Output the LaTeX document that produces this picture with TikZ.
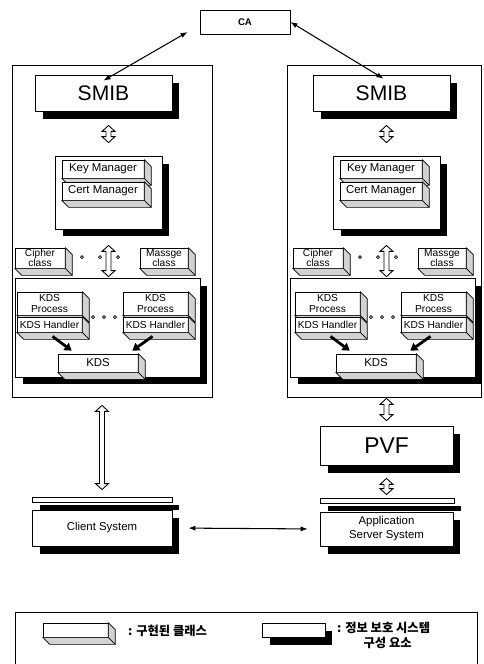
\documentclass[tikz,border=0pt]{standalone}
\usepackage{fontspec}
\setmainfont{Liberation Sans}
\newfontfamily\krfont{Noto Sans CJK KR}
\usetikzlibrary{arrows.meta, calc, shadows}

\tikzset{
  panel/.style={draw, line width=0.5pt, inner sep=0pt},
  sysbox/.style={draw, fill=white, line width=0.5pt, inner sep=0pt, align=center,
    drop shadow={shadow xshift=0.15cm, shadow yshift=-0.15cm, fill=black, opacity=1}},
  cls/.style={draw, fill=white, line width=0.4pt, inner sep=0pt, align=center,
    font=\fontsize{6.5}{6.5}\selectfont},
  face/.style={fill=gray!35, draw=black, line width=0.4pt, line join=round},
  % open two-headed arrow, always drawn from top to bottom
  hollow/.style={draw, fill=white, line width=0.5pt, line join=miter, to path={
    let \p1=(\tikztostart), \p2=(\tikztotarget) in
    (\x1,\y1) -- (\x1+3.7pt,\y1-3.4pt) -- (\x1+1.4pt,\y1-3.4pt)
    -- (\x2+1.4pt,\y2+3.4pt) -- (\x2+3.7pt,\y2+3.4pt) -- (\x2,\y2)
    -- (\x2-3.7pt,\y2+3.4pt) -- (\x2-1.4pt,\y2+3.4pt)
    -- (\x1-1.4pt,\y1-3.4pt) -- (\x1-3.7pt,\y1-3.4pt) -- cycle}},
  link/.style={line width=0.6pt, {Latex[length=4pt,width=3pt]}-{Latex[length=4pt,width=3pt]}},
  feed/.style={line width=1.6pt, -{Triangle[length=4pt,width=5pt]}},
  pip/.style={draw, line width=0.4pt},
  kr/.style={font=\krfont\bfseries\fontsize{7}{8.5}\selectfont},
}

% extruded side and bottom of a class box
\newcommand{\slab}[1]{%
  \filldraw[face] (#1.north east) -- ++(7,7) -- ($(#1.south east)+(7,7)$)
    -- ($(#1.south west)+(7,7)$) -- (#1.south west) -- (#1.south east) -- cycle;
  \draw[line width=0.4pt] (#1.south east) -- ++(7,7);}

\begin{document}
\begin{tikzpicture}[x=0.02cm, y=-0.02cm]
\useasboundingbox (0,0) rectangle (484,664);

\node[draw, line width=0.5pt, minimum width=1.8cm, minimum height=0.48cm,
  font=\bfseries\fontsize{5.5}{6}\selectfont] (ca) at (245,22) {CA};

% client side and server side
\node[panel, minimum width=4cm, minimum height=6.64cm] (panell) at (112,231) {};
\node[panel, minimum width=3.88cm, minimum height=6.64cm] (panelr) at (384,231) {};

\foreach \s/\dx/\dk in {l/0/0, r/278/275} {
  \node[sysbox, minimum width=2.74cm, minimum height=0.72cm,
    font=\fontsize{12}{14}\selectfont] (smib\s) at ({103.5+\dx},93) {SMIB};
  % key and cert managers
  \node[sysbox, minimum width=2.14cm, minimum height=1.46cm] (mgr\s) at ({108.5+\dx},192.5) {};
  \node[cls, minimum width=1.64cm, minimum height=0.36cm] (keym\s) at ({103+\dx},169) {Key Manager};
  \slab{keym\s}
  \node[cls, minimum width=1.64cm, minimum height=0.36cm] (certm\s) at ({103+\dx},191) {Cert Manager};
  \slab{certm\s}
  \draw[hollow] ($(mgr\s.north |- smib\s.south)+(0,14)$) to ($(mgr\s.north)+(0,-13)$);
  % crypto classes
  \node[cls, minimum width=1cm, minimum height=0.4cm, font=\fontsize{5.8}{6}\selectfont]
    (ciph\s) at ({40+\dx},258) {Cipher\\class};
  \slab{ciph\s}
  \node[cls, minimum width=0.96cm, minimum height=0.4cm, font=\fontsize{5.8}{6}\selectfont]
    (msg\s) at ({164+\dx},258) {Massge\\class};
  \slab{msg\s}
  \foreach \d in {82,100,118}
    \draw[pip] ({\d+\dx},257) circle[radius=0.03cm];
  % KDS block
  \node[sysbox, minimum width=3.7cm, minimum height=1.98cm] (kdsset\s) at ({107.5+\dk},327.5) {};
  \draw[hollow] ($(mgr\s.south)+(0,16)$) to ($(mgr\s.south |- kdsset\s.north)+(0,-1)$);
  \foreach \pr/\px in {a/49.5, b/155.5} {
    \node[cls, minimum width=1.3cm, minimum height=0.46cm, font=\fontsize{5.8}{6.2}\selectfont]
      (proc\pr\s) at ({\px+\dx},303.5) {KDS\\Process};
    \slab{proc\pr\s}
    \node[cls, minimum width=1.3cm, minimum height=0.3cm, font=\fontsize{5.8}{6}\selectfont]
      (hdl\pr\s) at ({\px+\dx},324.5) {KDS Handler};
    \slab{hdl\pr\s}
  }
  \foreach \d in {93,104,115}
    \draw[pip] ({\d+\dx},317) circle[radius=0.03cm];
  \node[cls, minimum width=1.6cm, minimum height=0.36cm] (kds\s) at ({98+\dx},363) {KDS};
  \slab{kds\s}
  \draw[feed] ($(hdla\s.south)+(3,4)$) -- ($(kds\s.north west)+(14,-3)$);
  \draw[feed] ($(hdlb\s.south)+(-3,4)$) -- ($(kds\s.north east)+(-6,-3)$);
}

\draw[link] ($(ca.west)+(-12,10)$) -- ($(smibl.north)+(0,6)$);
\draw[link] (ca.east) -- ($(smibr.north)+(2,4)$);

% systems
\node[sysbox, minimum width=2.66cm, minimum height=0.78cm,
  font=\fontsize{13}{15}\selectfont] (pvf) at (386.5,445.5) {PVF};
\node[sysbox, minimum width=2.8cm, minimum height=0.1cm] (platel) at (102,499.5) {};
\node[sysbox, minimum width=2.8cm, minimum height=0.72cm,
  font=\fontsize{6.5}{8}\selectfont] (client) at (102,528) {Client System};
\node[sysbox, minimum width=2.68cm, minimum height=0.1cm] (plater) at (387,500.5) {};
\node[sysbox, minimum width=2.66cm, minimum height=0.68cm,
  font=\fontsize{6.5}{8}\selectfont] (appsrv) at (386.5,529) {Application\\Server System};

\draw[hollow] ($(panell.south -| platel.north)+(0,8)$) to ($(platel.north)+(0,-7)$);
\draw[hollow] ($(panelr.south -| pvf.north)+(0,1)$) to ($(pvf.north)+(0,-5)$);
\draw[hollow] ($(pvf.south)+(0,13)$) to ($(pvf.south |- plater.north)+(0,-3)$);
\draw[link, shorten <=0.32cm, shorten >=0.24cm] (client.east) -- (appsrv.west);

% legend
\draw[line width=0.5pt] (15,664) -- (15,612) -- (477,612) -- (477,664);
\node[cls, minimum width=1.3cm, minimum height=0.28cm] (lgcls) at (75.5,630) {};
\slab{lgcls}
\node[kr, anchor=west] (lgclstxt) at (122,631) {: 구현된 클래스};
\node[sysbox, minimum width=1.26cm, minimum height=0.28cm] (lgsys) at (293.5,630) {};
\node[kr, anchor=west, align=center] (lgsystxt) at (331,635) {: 정보 보호 시스템\\\hphantom{: }구성 요소};
\end{tikzpicture}
\end{document}
